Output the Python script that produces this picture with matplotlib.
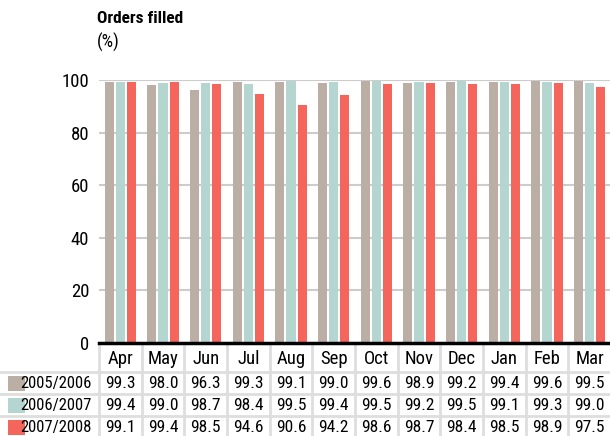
import numpy as np
import matplotlib.pyplot as plt
from matplotlib.transforms import blended_transform_factory
from matplotlib.patches import Rectangle

months = ['Apr', 'May', 'Jun', 'Jul', 'Aug', 'Sep', 'Oct', 'Nov', 'Dec', 'Jan', 'Feb', 'Mar']
seasons = ['2005/2006', '2006/2007', '2007/2008']
y0506 = [99.3, 98.0, 96.3, 99.3, 99.1, 99.0, 99.6, 98.9, 99.2, 99.4, 99.6, 99.5]
y0607 = [99.4, 99.0, 98.7, 98.4, 99.5, 99.4, 99.5, 99.2, 99.5, 99.1, 99.3, 99.0]
y0708 = [99.1, 99.4, 98.5, 94.6, 90.6, 94.2, 98.6, 98.7, 98.4, 98.5, 98.9, 97.5]
series = [y0506, y0607, y0708]
colors = ['#bbafa5', '#b5d5d0', '#f4655b']
yticks = [0, 20, 40, 60, 80, 100]

plt.rcParams['font.family'] = ['Roboto Condensed', 'DejaVu Sans']
plt.rcParams['font.stretch'] = 'condensed'

W, H = 610, 436
fig = plt.figure(figsize=(W / 100, H / 100), dpi=100)

# full-figure pixel axes for table lines and text
tax = fig.add_axes([0, 0, 1, 1])
tax.set_xlim(0, W)
tax.set_ylim(H, 0)
tax.axis('off')

# main bar axes: x 99..611, y 80..343 (pixels from top)
ax = fig.add_axes([99 / W, (H - 343) / H, 512 / W, 263 / H])
x = np.arange(len(months))
bw = 0.211
step = 0.258
for k, vals in enumerate(series):
    ax.bar(x + (k - 1) * step, vals, width=bw, color=colors[k], zorder=3)
ax.set_xlim(-0.5, len(months) - 0.5)
ax.set_ylim(0, 100)
ax.set_yticks(yticks)
ax.set_yticklabels([str(t) for t in yticks], fontsize=13.5)
ax.tick_params(axis='y', length=0, pad=7)
ax.set_xticks([])
for s in ['top', 'right', 'left']:
    ax.spines[s].set_visible(False)
ax.spines['bottom'].set_linewidth(2.5)
ax.spines['bottom'].set_color('black')
ax.spines['bottom'].set_zorder(5)
for t in yticks[1:]:
    ax.axhline(t, color='#cccccc', lw=1.5, zorder=1)

# title
fig.text(97 / W, 1 - 11 / H, 'Orders filled', fontsize=12.5, fontweight='bold', va='top', ha='left')
fig.text(97 / W, 1 - 33 / H, '(%)', fontsize=13, va='top', ha='left')

# table below
grid = '#dedede'
mix = blended_transform_factory(ax.transData, tax.transData)
for i in range(len(months) + 1):
    tax.plot([i - 0.5, i - 0.5], [345, H], color=grid, lw=2, transform=mix, clip_on=False)
for yl in [372, 394, 416]:
    tax.plot([0, 611], [yl, yl], color=grid, lw=2)

for i, m in enumerate(months):
    tax.text(i, 359, m, transform=mix, ha='center', va='center', fontsize=13.5)

row_y = [383, 405, 427]
for k, vals in enumerate(series):
    tax.add_patch(Rectangle((8, row_y[k] - 7.5), 17, 15, color=colors[k], lw=0))
    tax.text(92, row_y[k], seasons[k], ha='right', va='center', fontsize=12)
    for i, v in enumerate(vals):
        tax.text(i, row_y[k], f'{v:.1f}', transform=mix, ha='center', va='center', fontsize=12.5)

fig.savefig('out.png', dpi=100)
